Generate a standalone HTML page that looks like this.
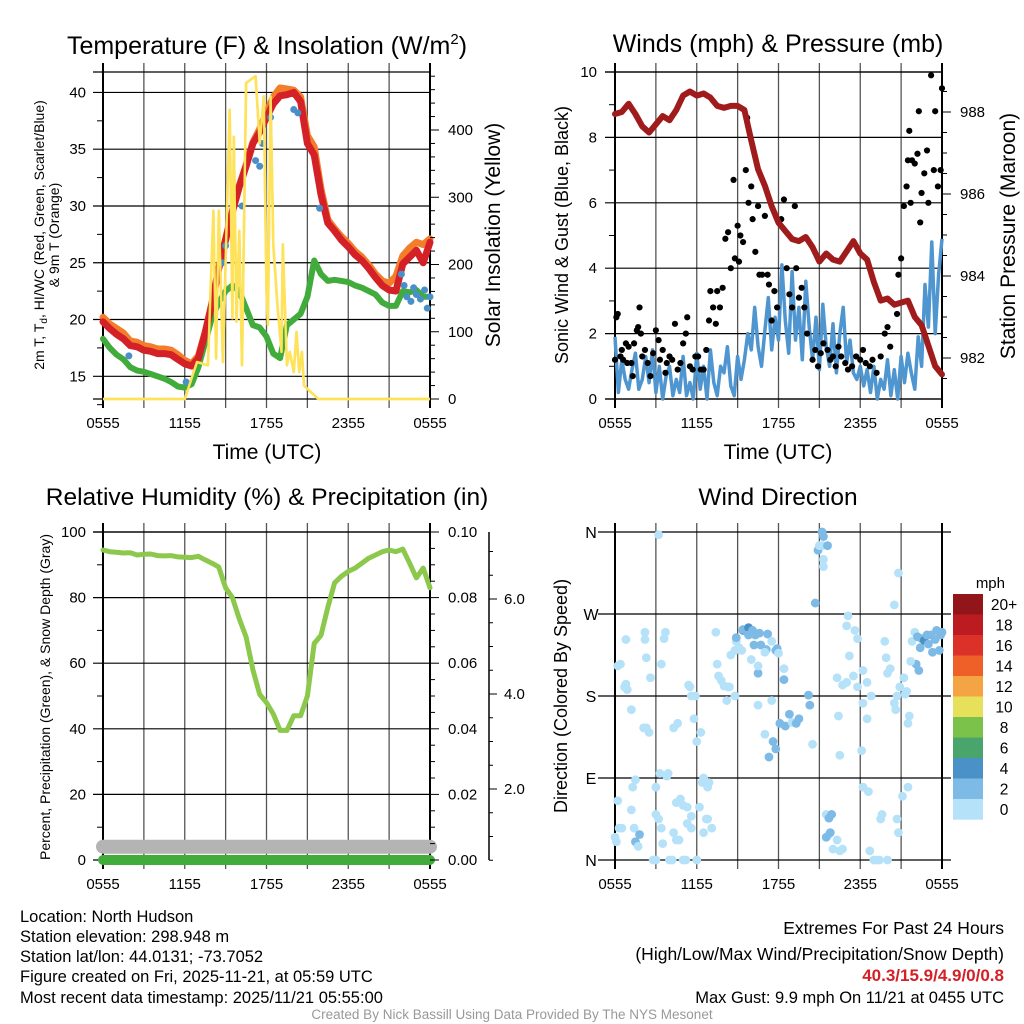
<!DOCTYPE html>
<html><head><meta charset="utf-8"><style>
html,body{margin:0;padding:0;background:#fff}
svg{display:block;font-family:"Liberation Sans",sans-serif}
</style></head><body>
<svg id="chart" width="1024" height="1024" viewBox="0 0 1024 1024">
<rect width="1024" height="1024" fill="#fff"/>
<g id="layer-grid"></g>
<g id="layer-data"></g>
<g id="layer-axes"></g>
<g id="layer-text" font-size="14" fill="#000">
<text x="267" y="54" font-size="25" text-anchor="middle">Temperature (F) &amp; Insolation (W/m<tspan font-size="15" dy="-10">2</tspan><tspan dy="10">)</tspan></text>
<text x="778" y="52" font-size="25" text-anchor="middle">Winds (mph) &amp; Pressure (mb)</text>
<text x="267" y="505" font-size="24.5" text-anchor="middle">Relative Humidity (%) &amp; Precipitation (in)</text>
<text x="778" y="505" font-size="24.5" text-anchor="middle">Wind Direction</text>
<text x="267" y="459" font-size="21" text-anchor="middle">Time (UTC)</text>
<text x="778" y="459" font-size="21" text-anchor="middle">Time (UTC)</text>
<text transform="translate(44,235) rotate(-90)" font-size="14" text-anchor="middle">2m T, T<tspan font-size="10" dy="3">d</tspan><tspan dy="-3">, HI/WC (Red, Green, Scarlet/Blue)</tspan></text>
<text transform="translate(59,235) rotate(-90)" font-size="14" text-anchor="middle">&amp; 9m T (Orange)</text>
<text transform="translate(500,235) rotate(-90)" font-size="21" text-anchor="middle">Solar Insolation (Yellow)</text>
<text transform="translate(568,235) rotate(-90)" font-size="18" text-anchor="middle">Sonic Wind &amp; Gust (Blue, Black)</text>
<text transform="translate(1015,236) rotate(-90)" font-size="21" text-anchor="middle">Station Pressure (Maroon)</text>
<text transform="translate(50,697) rotate(-90)" font-size="14" text-anchor="middle">Percent, Precipitation (Green), &amp; Snow Depth (Gray)</text>
<text transform="translate(567,696) rotate(-90)" font-size="18" text-anchor="middle">Direction (Colored By Speed)</text>
<text x="1005" y="588" font-size="15" text-anchor="end">mph</text>
<g font-size="16.5">
<text x="20" y="922">Location: North Hudson</text>
<text x="20" y="942">Station elevation: 298.948 m</text>
<text x="20" y="962">Station lat/lon: 44.0131; -73.7052</text>
<text x="20" y="982">Figure created on Fri, 2025-11-21, at 05:59 UTC</text>
<text x="20" y="1003">Most recent data timestamp: 2025/11/21 05:55:00</text>
</g>
<g text-anchor="end">
<text x="1004" y="934" font-size="17.5">Extremes For Past 24 Hours</text>
<text x="1004" y="960" font-size="17.5">(High/Low/Max Wind/Precipitation/Snow Depth)</text>
<text x="1004" y="981" font-size="17" font-weight="bold" fill="#d42027">40.3/15.9/4.9/0/0.8</text>
<text x="1004" y="1003" font-size="16.5">Max Gust: 9.9 mph On 11/21 at 0455 UTC</text>
</g>
<text x="512" y="1019" font-size="13.5" fill="#999" text-anchor="middle">Created By Nick Bassill Using Data Provided By The NYS Mesonet</text>
</g>
</svg>
<script>
// ---------- data ----------
const timeLabels = ["0555","1155","1755","2355","0555"];
const halfHours = []; for (let i = 0; i <= 48; i++) halfHours.push(i / 2);
const temp2m = [19.8,19.2,18.7,18.3,17.7,17.6,17.3,17.2,17.0,17.0,16.9,16.5,16.1,15.9,16.6,18.8,21.4,24.5,27.0,29.5,31.7,33.5,35.5,36.5,37.8,39.0,39.7,39.8,40.0,39.2,35.5,34.5,31.0,28.5,27.8,27.0,26.4,25.7,25.2,24.5,23.7,23.0,22.6,22.5,24.9,25.5,26.1,25.0,26.8];
const temp9m = [20.2,19.6,19.2,18.8,18.1,18.0,17.7,17.6,17.4,17.4,17.3,16.9,16.4,16.1,16.8,18.9,21.5,24.6,27.1,29.6,31.8,33.6,35.6,36.8,38.2,39.6,40.4,40.3,40.2,39.6,36.2,35.2,31.5,28.8,28.0,27.3,26.7,26.0,25.5,24.8,24.0,23.4,23.2,23.8,25.6,26.3,26.8,26.6,27.1];
const dewpoint = [18.3,17.5,16.9,16.5,15.8,15.5,15.4,15.2,15.0,14.8,14.5,14.1,14.0,14.3,15.8,18.0,20.2,21.5,22.5,23.0,22.5,21.0,19.5,19.3,18.5,17.0,16.6,19.5,20.0,20.5,22.0,25.2,24.0,23.4,23.5,23.4,23.3,23.0,22.8,22.5,22.2,21.5,21.2,21.2,22.5,22.4,22.6,22.0,22.0];
const windChillTimes = [1.9,6.1,8.8,9.0,10.2,11.2,11.5,11.7,12.3,14.0,14.3,15.9,21.9,22.1,22.3,22.6,22.8,23.0,23.3,23.6,23.8,24.0];
const windChillVals  = [16.8,14.5,25.0,26.5,30.0,34.0,33.5,35.5,37.8,38.5,38.2,29.8,24.0,23.0,22.0,21.6,22.8,22.2,21.8,22.6,21.0,22.0];
const solarTimes = [0,6.0,6.9,7.7,8.1,8.3,8.5,8.8,9.3,9.5,9.6,9.8,10.0,10.2,10.5,11.2,11.5,11.8,12.0,12.1,12.3,12.5,12.8,13.1,13.2,13.5,13.7,14.0,14.2,14.4,14.6,14.75,15.8,24];
const solarVals  = [0,0,55,50,280,60,280,55,430,120,390,115,250,50,470,480,380,450,160,110,450,230,140,70,230,50,70,40,100,40,70,20,0,0];
const pressure = [987.95,988.0,988.2,987.95,987.65,987.5,987.7,987.9,987.8,988.05,988.4,988.5,988.4,988.45,988.35,988.15,988.1,988.15,988.15,988.05,987.3,986.6,986.2,985.7,985.3,985.1,984.9,984.85,984.95,984.7,984.35,984.55,984.4,984.35,984.6,984.85,984.55,984.4,983.85,983.4,983.45,983.3,983.35,983.4,983.0,982.8,982.3,981.8,981.6];
const windQuarter = [];for(let i=0;i<=96;i++)windQuarter.push(i/4);
const windSpeed = [1.9,0.2,1.2,0.6,0.3,0.9,1.4,0.3,0.6,1.3,0.5,1.5,0.2,1.0,0.0,0.7,1.0,0.1,0.6,0.2,1.3,0.1,0.5,0.0,1.4,0.3,1.0,0.0,1.5,0.5,0.1,1.0,0.8,1.6,0.4,0.1,1.3,0.6,1.2,2.0,1.5,2.8,1.6,1.0,2.1,3.1,1.5,2.5,1.8,4.1,2.4,1.4,3.9,1.8,2.8,1.2,3.6,2.2,1.2,2.5,0.9,2.9,1.6,1.0,2.3,0.8,2.0,2.8,1.1,1.8,0.8,0.6,1.0,0.4,0.9,0.2,1.0,0.0,0.6,0.3,1.2,0.1,0.9,0.0,1.3,0.5,1.4,0.8,0.3,1.9,1.0,3.5,2.2,4.8,2.0,3.8,4.9];
const gustTimes = [0,0.1,0.2,0.4,0.5,0.6,0.8,0.9,1.0,1.2,1.3,1.4,1.6,1.7,1.8,1.9,2.0,2.2,2.4,2.6,2.8,3.0,3.2,3.3,3.5,3.7,3.8,4.0,4.2,4.4,4.6,4.8,5.0,5.2,5.3,5.5,5.7,5.9,6.1,6.3,6.5,6.7,6.9,7.0,7.2,7.4,7.5,7.7,7.9,8.1,8.3,8.5,8.7,8.8,9.0,9.1,9.2,9.4,9.6,9.7,9.8,10.0,10.1,10.3,10.5,10.6,10.8,11.0,11.2,11.3,11.5,11.7,11.9,12.2,12.4,12.6,12.8,13.0,13.2,13.3,13.5,13.7,13.9,14.1,14.5,14.7,14.9,15.1,15.3,15.6,15.8,16.0,16.2,16.4,16.6,16.9,17.1,17.4,17.7,18.0,18.2,18.4,18.7,18.9,19.2,19.5,19.8,20.0,20.2,20.5,20.7,20.8,21.0,21.2,21.4,21.5,21.6,21.7,21.8,22.0,22.2,22.3,22.4,22.5,22.7,22.9,23.0,23.2,23.4,23.5,23.7,23.9,24.0];
const gustVals  = [1.2,2.5,2.6,1.3,1.5,1.2,1.7,1.1,1.6,1.1,0.7,1.7,2.1,2.2,2.8,2.0,1.3,1.5,1.1,0.7,1.4,2.1,1.8,1.2,1.5,0.8,1.1,1.3,1.2,2.3,0.9,1.1,1.7,2.0,2.5,1.0,0.9,1.3,1.3,0.9,0.9,1.5,2.4,3.3,2.8,2.3,3.3,2.8,3.4,4.9,5.1,4.0,6.7,4.3,5.3,4.2,5.0,4.8,7.0,8.6,6.0,6.5,5.5,4.5,5.9,3.8,3.8,5.6,3.8,3.5,2.4,3.3,2.8,5.5,6.1,4.0,3.2,2.8,5.9,4.0,3.1,3.4,2.8,2.0,1.2,1.5,1.0,1.4,1.7,1.5,1.2,1.3,1.0,1.6,1.3,1.1,0.9,1.0,1.3,1.2,1.5,1.1,1.0,1.2,0.8,1.3,2.0,2.2,1.6,2.9,2.6,3.8,4.3,5.9,6.5,7.3,8.2,6.0,7.3,7.2,7.5,8.8,5.4,6.3,6.9,7.6,6.0,9.9,7.0,8.8,6.5,7.0,9.5];
const rhVals = [94.5,94,93.8,93.6,93.7,93,93.2,93.3,92.8,92.7,92.8,92.4,92.3,92.2,92.6,91.5,90.5,89.3,83,80,73.5,68,58,50.5,48,44.5,39.5,39.5,44,44,50,66,68.5,77,84.5,86.5,88,89,90.5,92,93,94,94.5,94,94.8,90.5,86,89,83];
const precipVals = [0,0];
const snowDepthVals = [0.75,0.75];
const dirTimes = [0.0,0.1,0.2,0.3,0.5,0.4,0.2,0.7,0.8,0.9,0.8,1.2,1.5,1.3,1.2,1.4,1.5,1.8,1.7,2.1,2.3,2.5,2.2,2.2,2.3,2.6,2.8,3.0,3.2,3.0,3.2,3.0,3.3,3.4,3.5,3.7,3.6,3.4,3.9,3.8,4.0,4.2,4.3,4.6,4.3,4.5,4.7,4.5,4.8,5.0,5.3,5.4,5.5,5.6,5.9,5.0,5.2,5.3,5.6,5.6,5.8,6.0,6.2,6.0,6.3,6.5,6.7,6.8,6.4,6.5,6.7,6.9,6.8,7.1,7.4,7.6,7.5,7.8,8.0,8.3,8.2,8.4,8.8,8.5,8.8,8.9,9.1,9.3,8.9,9.4,9.4,9.8,9.8,10.1,10.2,10.3,10.6,10.7,10.5,11.1,11.2,11.5,11.9,11.8,12.1,12.4,12.8,12.5,11.6,11.3,11.8,11.0,11.5,10.5,10.0,10.5,11.0,12.0,12.4,13.0,13.3,13.5,14.2,14.3,14.5,14.7,14.9,15.0,15.2,15.3,15.3,15.3,15.2,15.6,15.5,15.7,15.9,15.7,15.8,15.5,16.0,16.3,16.5,16.7,16.5,16.3,16.7,16.4,17.0,17.2,17.5,17.8,17.1,17.8,17.6,17.0,18.2,18.5,18.8,18.2,18.5,18.1,18.2,18.6,18.7,19.0,19.2,19.4,19.5,19.6,20.0,19.8,19.9,20.0,20.2,20.5,20.6,20.7,20.9,20.5,20.8,20.8,21.1,21.5,20.7,21.2,21.3,21.4,21.5,21.6,21.8,22.0,22.2,22.5,22.4,22.7,22.9,23.2,23.0,23.3,23.5,23.6,23.9,24.0,23.8,22.1,22.3,21.7];
const dirDegrees = [25,20,65,35,35,215,213,190,193,187,242,165,88,80,55,35,20,28,15,145,145,140,250,242,222,200,0,0,357,50,45,80,95,35,18,250,243,215,95,92,0,0,145,150,30,22,22,63,67,60,58,192,190,180,180,0,0,40,35,48,155,0,58,130,140,30,45,45,85,90,85,85,80,35,250,202,215,197,191,190,175,190,180,225,230,240,233,230,244,252,253,255,247,252,236,247,249,236,170,231,248,240,232,230,150,198,160,147,130,113,122,138,175,205,220,213,228,227,210,151,150,155,181,170,127,282,340,345,360,355,322,330,345,345,50,46,50,28,30,25,12,22,10,12,115,200,192,158,195,224,202,190,268,243,252,257,208,195,180,172,155,120,80,75,10,0,0,0,45,50,0,240,222,205,210,172,165,180,190,280,315,30,70,80,45,200,182,185,150,158,240,250,245,243,233,241,247,247,237,228,242,252,247,250,230,215,208,218];
const dirSpeeds = [1,1,1,1,1,1,1,1,1,1,1,1,1,1,1,1,2.5,2.5,1,1,1,1,1,1,1,1,1,1,1,1,1,1,1,1,1,1,1,1,1,1,1,1,1,1,1,1,1,1,1,1,1,1,1,1,1,1,1,1,1,1,1,1,1,1,1,1,1,1,1,1,1,1,1,1,1,1,1,1,1,1,1,1,1,1,1,1,1,1,3,4,3,4,3,3,3,3,3,3,1,2,3,1,3,3,3,3,3,3,3,3,3,1,1,3,1,1,1,1,1,1,2,2,2,2,1,2,2,1,2,2,1,1,1,2,1,2,3,1,2,2,1,1,1,1,1,1,1,1,1,1,1,1,1,1,1,1,1,1,1,1,1,1,1,1,1,1,1,1,1,1,1,1,1,1,1,1,1,1,1,1,1,1,1,1,1,1,1,1,1,1,1,1,3,2,3,4,2,3,3,3,2,3,3,3,3,3,2,1,1,1];
const colorbarLabels = ["20+","18","16","14","12","10","8","6","4","2","0"];
const colorbarColors = ["#921519","#bd1b22","#db3128","#ef6029","#f5a443","#e6e05a","#7bc24a","#4aa56c","#4a91c7","#7dbae5","#b5e2f8"];

// ---------- helpers ----------
const NS="http://www.w3.org/2000/svg";
const gGrid=document.getElementById('layer-grid'),gData=document.getElementById('layer-data'),gAx=document.getElementById('layer-axes'),gTxt=document.getElementById('layer-text');
function mk(tag,attrs,parent,name){const el=document.createElementNS(NS,tag);for(const k in attrs)el.setAttribute(k,attrs[k]);


parent.appendChild(el);return el;}
function txt(x,y,s,anchor,size,name){const t=mk('text',{x:x,y:y,'text-anchor':anchor,'font-size':size},gTxt,name);t.textContent=s;return t;}
function pathD(xs,ys,fx,fy){let d='';for(let i=0;i<xs.length;i++)d+=(i?'L':'M')+fx(xs[i]).toFixed(1)+' '+fy(ys[i]).toFixed(1);return d;}
const L1=103,R1=430,L2=615,R2=942;
const xL=h=>L1+h/24*(R1-L1), xR=h=>L2+h/24*(R2-L2);
const yT=v=>399-(v-13)/28.8*327, yS=v=>399-v*0.6725;
const yW=v=>399-v*32.7, yP=p=>112+(988-p)*41;
const yR=v=>860-v*3.28, yPr=v=>860-v*3280, yD=d=>860-d/360*328, ySn=v=>884-v*47.5;

function frame(L,R,T,B,name){
  for(let k=0;k<=8;k++){const x=L+k*(R-L)/8;
    mk('line',{x1:x,y1:T-9,x2:x,y2:B+9,stroke:(k===0||k===8)?'#000':'#555','stroke-width':(k===0||k===8)?2:1.3},gGrid,name+'-vgrid');}
  for(let k=0;k<5;k++){txt(L+k*(R-L)/4,B+29,timeLabels[k],'middle',15,name+'-x-tick-label');}
}
function hgrid(L,R,y,name){mk('line',{x1:L-10,y1:y,x2:R,y2:y,stroke:'#000','stroke-width':1.2},gGrid,name);}
function tickR(x,y,len,name){mk('line',{x1:x,y1:y,x2:x+len,y2:y,stroke:'#000','stroke-width':1},gAx,name);}
function tickL(x,y,len,name){mk('line',{x1:x-len,y1:y,x2:x,y2:y,stroke:'#000','stroke-width':1},gAx,name);}

// ---------- panel 1: temperature ----------
frame(L1,R1,72,399,'temp');
hgrid(L1,R1,72,'temp-top-border');hgrid(L1,R1,399,'temp-bottom-border');
for(let v=15;v<=40;v+=5){hgrid(L1,R1,yT(v),'temp-hgrid');txt(86,yT(v)+5,String(v),'end',15,'temp-y-tick-label');}
for(let v=12.5;v<=41.8;v+=2.5){if(v%5)tickL(L1,yT(v),6,'temp-y-minor-tick');}
for(let v=0;v<=480;v+=20){const y=yS(v);tickR(R1,y,v%100?5:9,'solar-y-tick');if(v%100===0)txt(448,y+5,String(v),'start',15,'solar-y-tick-label');}
mk('path',{d:pathD(solarTimes,solarVals,xL,yS),fill:'none',stroke:'#fde25a','stroke-width':2.5,'stroke-linejoin':'round'},gData,'solar-line');
mk('path',{d:pathD(halfHours,temp9m,xL,yT),fill:'none',stroke:'#f47d2b','stroke-width':7,'stroke-linejoin':'round','stroke-linecap':'round'},gData,'temp-9m-line');
mk('path',{d:pathD(halfHours,dewpoint,xL,yT),fill:'none',stroke:'#41ab3c','stroke-width':6,'stroke-linejoin':'round','stroke-linecap':'round'},gData,'dewpoint-line');
mk('path',{d:pathD(halfHours,temp2m,xL,yT),fill:'none',stroke:'#d42027','stroke-width':7,'stroke-linejoin':'round','stroke-linecap':'round'},gData,'temp-2m-line');
for(let i=0;i<windChillTimes.length;i++){mk('circle',{cx:xL(windChillTimes[i]),cy:yT(windChillVals[i]),r:3.5,fill:'#4a90c8'},gData,'windchill-point');}
mk('path',{d:pathD(solarTimes,solarVals,xL,yS),fill:'none',stroke:'#fde25a','stroke-width':2.5,'stroke-linejoin':'round'},gData,'solar-line-top');

// ---------- panel 2: winds ----------
frame(L2,R2,72,399,'wind');
hgrid(L2,R2,72,'wind-top-border');hgrid(L2,R2,399,'wind-bottom-border');
for(let v=0;v<=10;v+=2){hgrid(L2,R2,yW(v),'wind-hgrid');txt(597,yW(v)+5,String(v),'end',15,'wind-y-tick-label');}
for(let v=1;v<10;v+=2)tickL(L2,yW(v),6,'wind-y-minor-tick');
for(let p=981.5;p<=989;p+=0.5){const y=yP(p);if(y<72||y>399)continue;const maj=(p%2===0);tickR(R2,y,maj?9:5,'pressure-y-tick');if(maj)txt(960,y+5,String(p),'start',15,'pressure-y-tick-label');}
mk('path',{d:pathD(windQuarter,windSpeed,xR,yW),fill:'none',stroke:'#4f96d0','stroke-width':3.5,'stroke-linejoin':'round'},gData,'wind-speed-line');
for(let i=0;i<gustTimes.length;i++){mk('circle',{cx:xR(gustTimes[i]),cy:yW(gustVals[i]),r:3.1,fill:'#000'},gData,'gust-point');}
mk('path',{d:pathD(halfHours,pressure,xR,yP),fill:'none',stroke:'#a01c1c','stroke-width':6,'stroke-linejoin':'round','stroke-linecap':'round'},gData,'pressure-line');

// ---------- panel 3: RH ----------
frame(L1,R1,532,860,'rh');
hgrid(L1,R1,532,'rh-top-border');
for(let v=0;v<=100;v+=20){hgrid(L1,R1,yR(v),'rh-hgrid');txt(86,yR(v)+5,String(v),'end',15,'rh-y-tick-label');}
for(let v=10;v<100;v+=20)tickL(L1,yR(v),6,'rh-y-minor-tick');
for(let k=0;k<=20;k++){const v=k*0.005;const y=yPr(v);tickR(R1,y,k%4?5:9,'precip-y-tick');if(k%4===0)txt(448,y+5,v.toFixed(2),'start',15,'precip-y-tick-label');}
mk('line',{x1:489,y1:532,x2:489,y2:860,stroke:'#000','stroke-width':1.5},gAx,'snow-axis-line');
for(let k=1;k<=14;k++){const v=k*0.5;const y=ySn(v);if(y<531)continue;tickR(489,y,k%4?4:8,'snow-y-tick');if(k%4===0)txt(504,y+5,v.toFixed(1),'start',15,'snow-y-tick-label');}
mk('path',{d:pathD([0,24],snowDepthVals,xL,v=>yR(v*5.4)),fill:'none',stroke:'#b4b4b4','stroke-width':14,'stroke-linecap':'round'},gData,'snow-depth-line');
mk('path',{d:pathD([0,24],precipVals,xL,yPr),fill:'none',stroke:'#41ab3c','stroke-width':10,'stroke-linecap':'round'},gData,'precip-line');
mk('path',{d:pathD(halfHours,rhVals,xL,yR),fill:'none',stroke:'#8cc84b','stroke-width':5,'stroke-linejoin':'round','stroke-linecap':'round'},gData,'rh-line');

// ---------- panel 4: wind direction ----------
frame(L2,R2,532,860,'dir');
const dirLabels=["N","E","S","W","N"];
for(let k=0;k<5;k++){const y=yD(k*90);mk('line',{x1:598,y1:y,x2:951,y2:y,stroke:'#000','stroke-width':1.2},gGrid,'dir-hgrid');txt(591,y+6,dirLabels[k],'middle',16,'dir-y-tick-label');}
for(let i=0;i<dirTimes.length;i++){const s=dirSpeeds[i];const ci=10-Math.min(10,Math.floor(s/2));
  mk('circle',{cx:xR(dirTimes[i]),cy:yD(dirDegrees[i]),r:4.4,fill:colorbarColors[ci]},gData,'direction-point');}
for(let k=0;k<colorbarLabels.length;k++){const y=594+k*20.5;
  mk('rect',{x:953,y:y,width:30,height:20.7,fill:colorbarColors[k]},gAx,'colorbar-swatch');
  txt(1004,y+16,colorbarLabels[k],'middle',15.5,'colorbar-label');}
</script>
</body></html>
